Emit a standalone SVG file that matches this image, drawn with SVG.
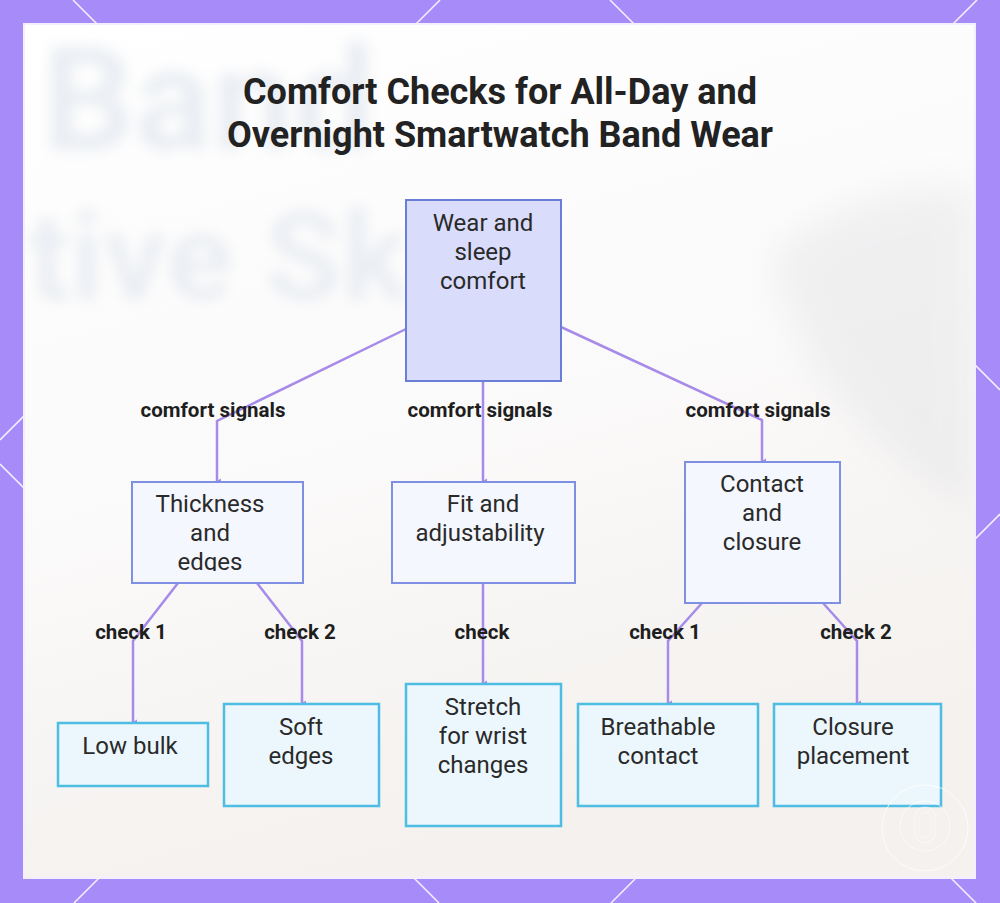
<svg xmlns="http://www.w3.org/2000/svg" width="1000" height="903" viewBox="0 0 1000 903">
<style>
.t{font-family:Roboto,"Liberation Sans",sans-serif;font-size:24px;fill:#2a2a2a;text-anchor:middle}
.lb{font-family:Roboto,"Liberation Sans",sans-serif;font-size:20.5px;font-weight:700;fill:#1e1e1e;text-anchor:middle}
.title{font-family:Roboto,"Liberation Sans",sans-serif;font-size:36px;font-weight:700;fill:#222;text-anchor:middle}
.root{fill:#d9dcfb;stroke:#6b7ed6;stroke-width:2}
.mid{fill:#f5f7fe;stroke:#7f90e2;stroke-width:2}
.leaf{fill:#ecf7fd;stroke:#4dbde3;stroke-width:2.5}
.c{fill:none;stroke:#a68be9;stroke-width:2.5;marker-end:url(#ah)}
.lat{stroke:#fff;stroke-width:1.6;opacity:.85}
.bg{font-family:Roboto,"Liberation Sans",sans-serif;font-weight:700;fill:#e3e8ef}
</style>
<defs>
<marker id="ah" markerWidth="6" markerHeight="6" refX="3" refY="5" orient="auto" markerUnits="userSpaceOnUse" viewBox="0 0 6 6">
<path d="M0.5,1 L3,5 L5.5,1" fill="#a68be9"/>
</marker>
<linearGradient id="pg" x1="0" y1="0" x2="0.3" y2="1">
<stop offset="0" stop-color="#ffffff"/>
<stop offset="0.55" stop-color="#fbfafa"/>
<stop offset="1" stop-color="#f4f1ee"/>
</linearGradient>
<filter id="blur" x="-20%" y="-20%" width="140%" height="140%"><feGaussianBlur stdDeviation="7"/></filter>
<filter id="blur2" x="-30%" y="-30%" width="160%" height="160%"><feGaussianBlur stdDeviation="18"/></filter>
<clipPath id="pc"><rect x="25" y="25" width="949" height="852"/></clipPath>
<clipPath id="thc"><rect x="133" y="483" width="169" height="88"/></clipPath>
</defs>
<rect x="0" y="0" width="1000" height="903" fill="#a78bf8"/>
<g id="lattice">
<line class="lat" x1="0" y1="464" x2="439" y2="903"/>
<line class="lat" x1="73" y1="0" x2="976" y2="903"/>
<line class="lat" x1="610" y1="0" x2="1000" y2="390"/>
<line class="lat" x1="440" y1="0" x2="0" y2="440"/>
<line class="lat" x1="977" y1="0" x2="74" y2="903"/>
<line class="lat" x1="1000" y1="514" x2="611" y2="903"/>
</g>
<rect x="24" y="24" width="951" height="854" fill="url(#pg)" stroke="#f3efff" stroke-width="2"/>
<g id="backdrop" clip-path="url(#pc)">
<path d="M770,260 C830,200 900,185 975,190 L975,520 C900,470 850,420 810,360 Z" fill="#e8e8ea" opacity="0.6" filter="url(#blur2)"/>
<text class="bg" x="42" y="150" font-size="145" filter="url(#blur)" opacity="0.75">Band</text>
<text class="bg" x="28" y="300" font-size="125" font-weight="400" filter="url(#blur)" opacity="0.7">tive Sk</text>
</g>
<g id="title">
<text class="title" x="500" y="104">Comfort Checks for All-Day and</text>
<text class="title" x="500" y="147">Overnight Smartwatch Band Wear</text>
</g>
<g id="connectors">
<polyline class="c" points="406,329 217,421 217,481"/>
<polyline class="c" points="483,381 483,481"/>
<polyline class="c" points="561,327 762,420 762,461"/>
<polyline class="c" points="178,583 133,641 133,722"/>
<polyline class="c" points="257,583 302,641 302,703"/>
<polyline class="c" points="483,583 483,683"/>
<polyline class="c" points="702,603 668,641 668,703"/>
<polyline class="c" points="823,603 857,641 857,703"/>
</g>
<g id="labels">
<text class="lb" x="213" y="417">comfort signals</text>
<text class="lb" x="480" y="417">comfort signals</text>
<text class="lb" x="758" y="417">comfort signals</text>
<text class="lb" x="131" y="639">check 1</text>
<text class="lb" x="300" y="639">check 2</text>
<text class="lb" x="482" y="639">check</text>
<text class="lb" x="665" y="639">check 1</text>
<text class="lb" x="856" y="639">check 2</text>
</g>
<g id="node-root">
<rect class="root" x="406" y="200" width="155" height="181"/>
<text class="t" x="483" y="231">Wear and</text>
<text class="t" x="483" y="260">sleep</text>
<text class="t" x="483" y="289">comfort</text>
</g>
<g id="node-thickness">
<rect class="mid" x="132" y="482" width="171" height="101"/>
<g clip-path="url(#thc)">
<text class="t" x="210" y="512">Thickness</text>
<text class="t" x="210" y="541">and</text>
<text class="t" x="210" y="570">edges</text>
</g>
</g>
<g id="node-fit">
<rect class="mid" x="392" y="482" width="183" height="101"/>
<text class="t" x="483" y="512">Fit and</text>
<text class="t" x="480" y="541">adjustability</text>
</g>
<g id="node-contact">
<rect class="mid" x="685" y="462" width="155" height="141"/>
<text class="t" x="762" y="492">Contact</text>
<text class="t" x="762" y="521">and</text>
<text class="t" x="762" y="550">closure</text>
</g>
<g id="node-lowbulk">
<rect class="leaf" x="58" y="723" width="150" height="63"/>
<text class="t" x="130" y="754">Low bulk</text>
</g>
<g id="node-soft">
<rect class="leaf" x="224" y="704" width="155" height="102"/>
<text class="t" x="301" y="735">Soft</text>
<text class="t" x="301" y="764">edges</text>
</g>
<g id="node-stretch">
<rect class="leaf" x="406" y="684" width="155" height="142"/>
<text class="t" x="483" y="715">Stretch</text>
<text class="t" x="483" y="744">for wrist</text>
<text class="t" x="483" y="773">changes</text>
</g>
<g id="node-breathable">
<rect class="leaf" x="578" y="704" width="180" height="102"/>
<text class="t" x="658" y="735">Breathable</text>
<text class="t" x="658" y="764">contact</text>
</g>
<g id="node-closure">
<rect class="leaf" x="774" y="704" width="167" height="102"/>
<text class="t" x="853" y="735">Closure</text>
<text class="t" x="853" y="764">placement</text>
</g>
<g id="watermark" fill="none" stroke="#ffffff" opacity="0.8">
<circle cx="925" cy="828" r="43" stroke-width="1"/>
<circle cx="925" cy="826" r="25" stroke-width="0.8"/>
<rect x="915" y="807" width="20" height="36" rx="10" stroke-width="0.8"/>
<rect x="919" y="812" width="12" height="26" rx="6" stroke-width="0.6"/>
</g>
</svg>
